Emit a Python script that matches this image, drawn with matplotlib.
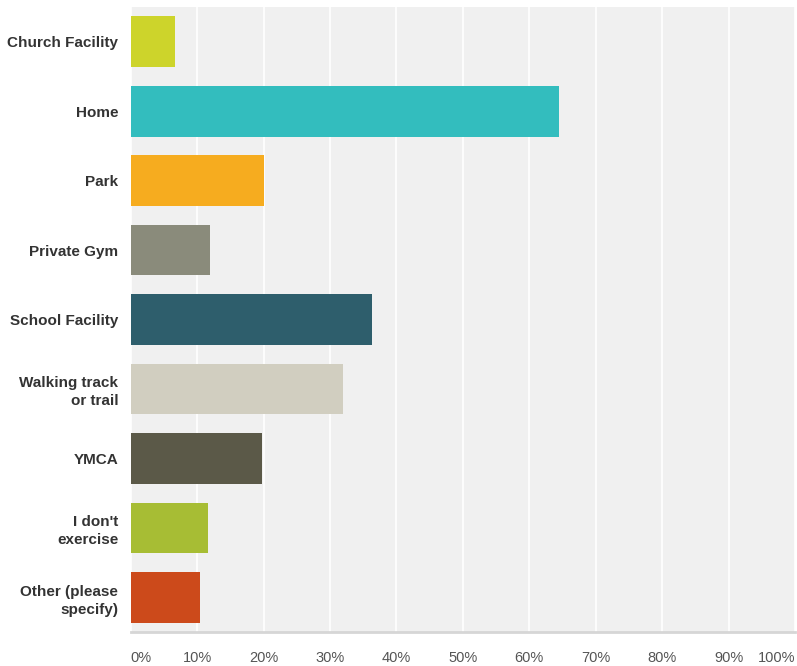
import matplotlib.pyplot as plt

# 数据
categories = ["Church Facility", "Home", "Park", "Private Gym", "School Facility",
              "Walking track\nor trail", "YMCA", "I don't\nexercise", "Other (please\nspecify)"]
values = [6.6, 64.4, 20.1, 11.9, 36.3, 32.0, 19.7, 11.7, 10.4]
colors = ["#cdd42b", "#33bdbe", "#f6ac1f", "#8a8b7b", "#2e5e6c",
          "#d1cec0", "#5b5948", "#a7bd34", "#cc4a1b"]
tick_vals = list(range(0, 101, 10))
tick_labels = [f"{v}%" for v in tick_vals]

plt.rcParams['font.family'] = ['Liberation Sans', 'DejaVu Sans']

fig = plt.figure(figsize=(7.97, 6.66), dpi=100)
ax = fig.add_axes([0.164, 0.051, 0.8336, 0.9384])
ax.set_facecolor("#f0f0f0")

y = list(range(len(categories)))
ax.barh(y, values, height=0.73, color=colors, zorder=3)
ax.set_ylim(len(categories) - 0.5, -0.5)
ax.set_xlim(0, 100)

ax.set_xticks(tick_vals)
ax.set_xticklabels(tick_labels, color="#555555", fontsize=10.5)
labels = ax.get_xticklabels()
labels[0].set_horizontalalignment("left")
labels[-1].set_horizontalalignment("right")
ax.set_yticks(y)
ax.set_yticklabels(categories, fontweight="bold", color="#333333", fontsize=11)
for t in ax.get_yticklabels():
    t.set_multialignment("right")
    t.set_linespacing(1.35)
ax.tick_params(axis="both", length=0)
ax.tick_params(axis="x", pad=14)
ax.tick_params(axis="y", pad=9)

ax.grid(axis="x", color="white", linewidth=1.2, zorder=1)
for s in ["top", "right", "left"]:
    ax.spines[s].set_visible(False)
ax.spines["bottom"].set_color("#d6d6d6")
ax.spines["bottom"].set_linewidth(2)

fig.savefig("out.png", dpi=100)
